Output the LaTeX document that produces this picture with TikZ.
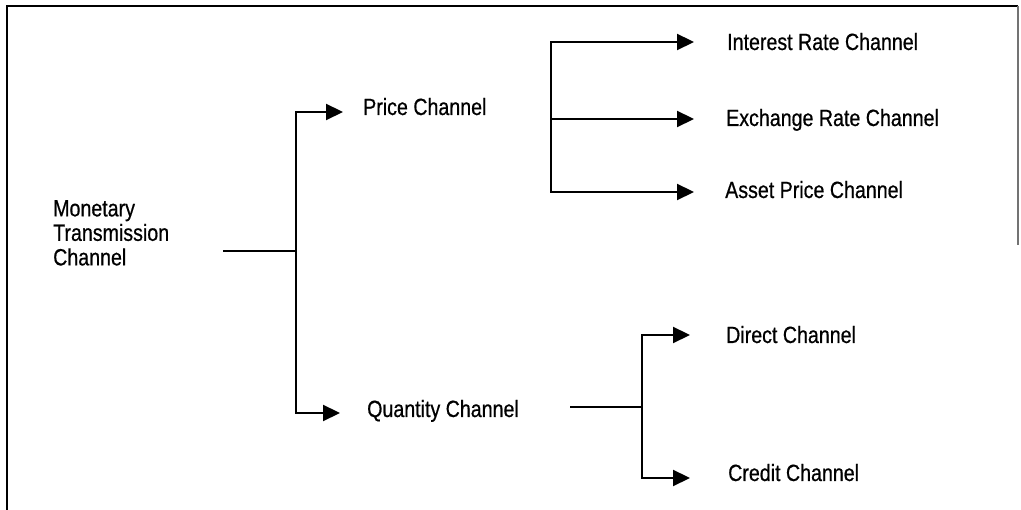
\documentclass[tikz,border=0pt]{standalone}
\usepackage{fontspec}
\setmainfont{Liberation Sans}[FakeStretch=0.835,FakeBold=0.6]
\usetikzlibrary{arrows.meta}
\begin{document}
\begin{tikzpicture}[x=1pt,y=-1pt,
  lbl/.style={inner sep=0pt, anchor=base west, font=\fontsize{23.5}{24.5}\selectfont},
  wire/.style={line width=2.2pt},
  arr/.style={wire, -{Triangle[length=17pt,width=16pt]}}]
\useasboundingbox (0,0) rectangle (1021,510);

% frame
\draw[line width=2.4pt] (7,510) -- (7,6) -- (1018,6);
\draw[line width=2pt, black!55] (1018,6) -- (1018,245);

% labels
\node[lbl, anchor=north west, align=left] (mtc) at (53,200) {Monetary\\Transmission\\Channel};
\node[lbl] (price) at (363,115) {Price Channel};
\node[lbl] (qty)   at (367,417) {Quantity Channel};
\node[lbl] (ir)    at (727,50)  {Interest Rate Channel};
\node[lbl] (er)    at (726,126) {Exchange Rate Channel};
\node[lbl] (ap)    at (725,198) {Asset Price Channel};
\node[lbl] (dc)    at (726,343) {Direct Channel};
\node[lbl] (cc)    at (728,481) {Credit Channel};

% branch points and arrow tips
\coordinate (m0) at (223,251);
\coordinate (j0) at (296,251);
\coordinate (tP) at (343,112);
\coordinate (tQ) at (340,413);

\coordinate (p2) at (551,119);
\coordinate (tI) at (694,42);
\coordinate (tE) at (694,119);
\coordinate (tA) at (694,192);

\coordinate (q0) at (570,407);
\coordinate (q1) at (642,407);
\coordinate (tD) at (690,335);
\coordinate (tC) at (690,478);

% main split
\draw[wire] (m0) -- (j0);
\draw[arr] (j0) |- (tP);
\draw[arr] (j0) |- (tQ);

% price channel branches
\draw[arr] (p2) |- (tI);
\draw[arr] (p2) -- (tE);
\draw[arr] (p2) |- (tA);

% quantity channel branches
\draw[wire] (q0) -- (q1);
\draw[arr] (q1) |- (tD);
\draw[arr] (q1) |- (tC);
\end{tikzpicture}
\end{document}
